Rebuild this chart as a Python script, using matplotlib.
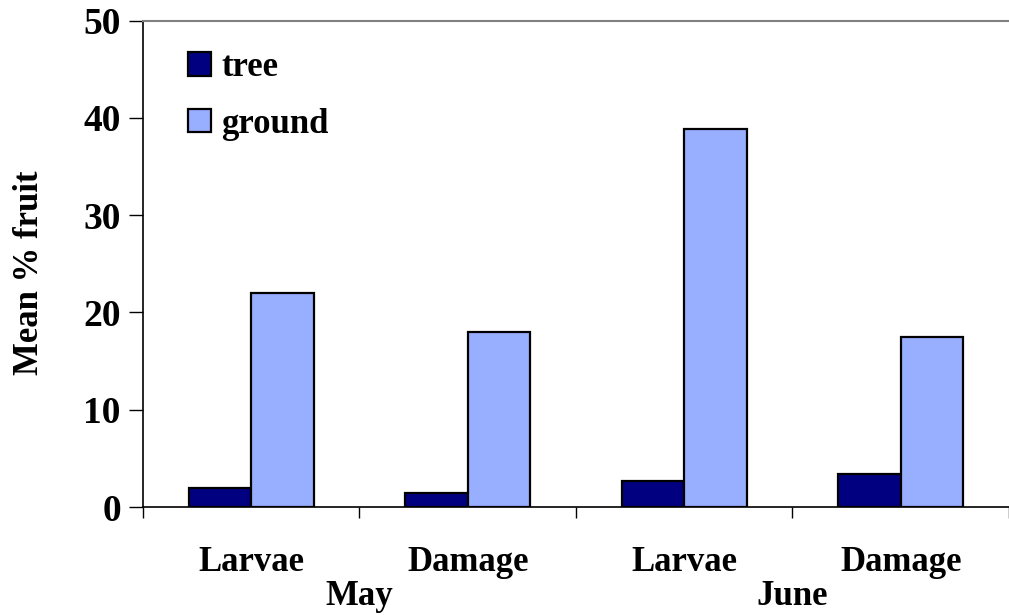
import numpy as np
import matplotlib.pyplot as plt
from matplotlib.patches import Patch
from matplotlib.transforms import blended_transform_factory

# data
categories = ['Larvae', 'Damage', 'Larvae', 'Damage']
months = ['May', 'June']
tree = [2.0, 1.4, 2.7, 3.4]
ground = [22.0, 18.0, 38.9, 17.5]

plt.rcParams['font.family'] = ['Liberation Serif', 'DejaVu Serif']
plt.rcParams['font.weight'] = 'bold'

tree_color = '#000080'
ground_color = '#98AEFF'

fig = plt.figure(figsize=(10.09, 6.15), dpi=100)
ax = fig.add_axes([0.1417, 0.1756, 1.0 - 0.1417, 0.9663 - 0.1756])

x = np.arange(len(categories))
w = 0.288
ax.bar(x - w / 2, tree, w, color=tree_color, edgecolor='black', linewidth=1.6)
ax.bar(x + w / 2, ground, w, color=ground_color, edgecolor='black', linewidth=1.6)

ax.set_xlim(-0.5, 3.45)
ax.set_ylim(0, 50)

# y axis
ax.set_yticks([0, 10, 20, 30, 40, 50])
ax.tick_params(axis='y', direction='out', length=10, width=1, pad=6, labelsize=27)

# category labels at centres, tick marks at the boundaries
ax.set_xticks(x)
ax.set_xticklabels(categories, fontsize=25, fontweight='bold')
ax.tick_params(axis='x', which='major', length=0, pad=28)
ax.set_xticks(np.arange(-0.5, len(categories), 1.0), minor=True)
ax.tick_params(axis='x', which='minor', direction='out', length=8, width=1)

for lab in ax.get_yticklabels():
    lab.set_fontweight('bold')

trans = blended_transform_factory(ax.transData, ax.transAxes)
for i, m in enumerate(months):
    ax.text(0.5 + 2 * i, -0.2015, m, transform=trans, ha='center', va='baseline',
            fontsize=25, fontweight='bold')

fig.text(30 / 1009, 1 - 273 / 615, 'Mean % fruit', rotation=90, ha='center',
         va='center', fontsize=25, fontweight='bold')

ax.spines['right'].set_visible(False)
ax.spines['top'].set_color('#808080')
ax.spines['top'].set_linewidth(1.5)
ax.spines['left'].set_linewidth(1.2)
ax.spines['bottom'].set_linewidth(1.2)

handles = [Patch(facecolor=tree_color, edgecolor='black', linewidth=1.6),
           Patch(facecolor=ground_color, edgecolor='black', linewidth=1.6)]
ax.legend(handles, ['tree', 'ground'], loc='upper left', bbox_to_anchor=(0.052, 0.937),
          frameon=False, borderpad=0, borderaxespad=0, handlelength=0.66,
          handleheight=0.66, handletextpad=0.3, labelspacing=0.68,
          prop={'size': 25, 'weight': 'bold'})

plt.savefig('out.png', dpi=100)
